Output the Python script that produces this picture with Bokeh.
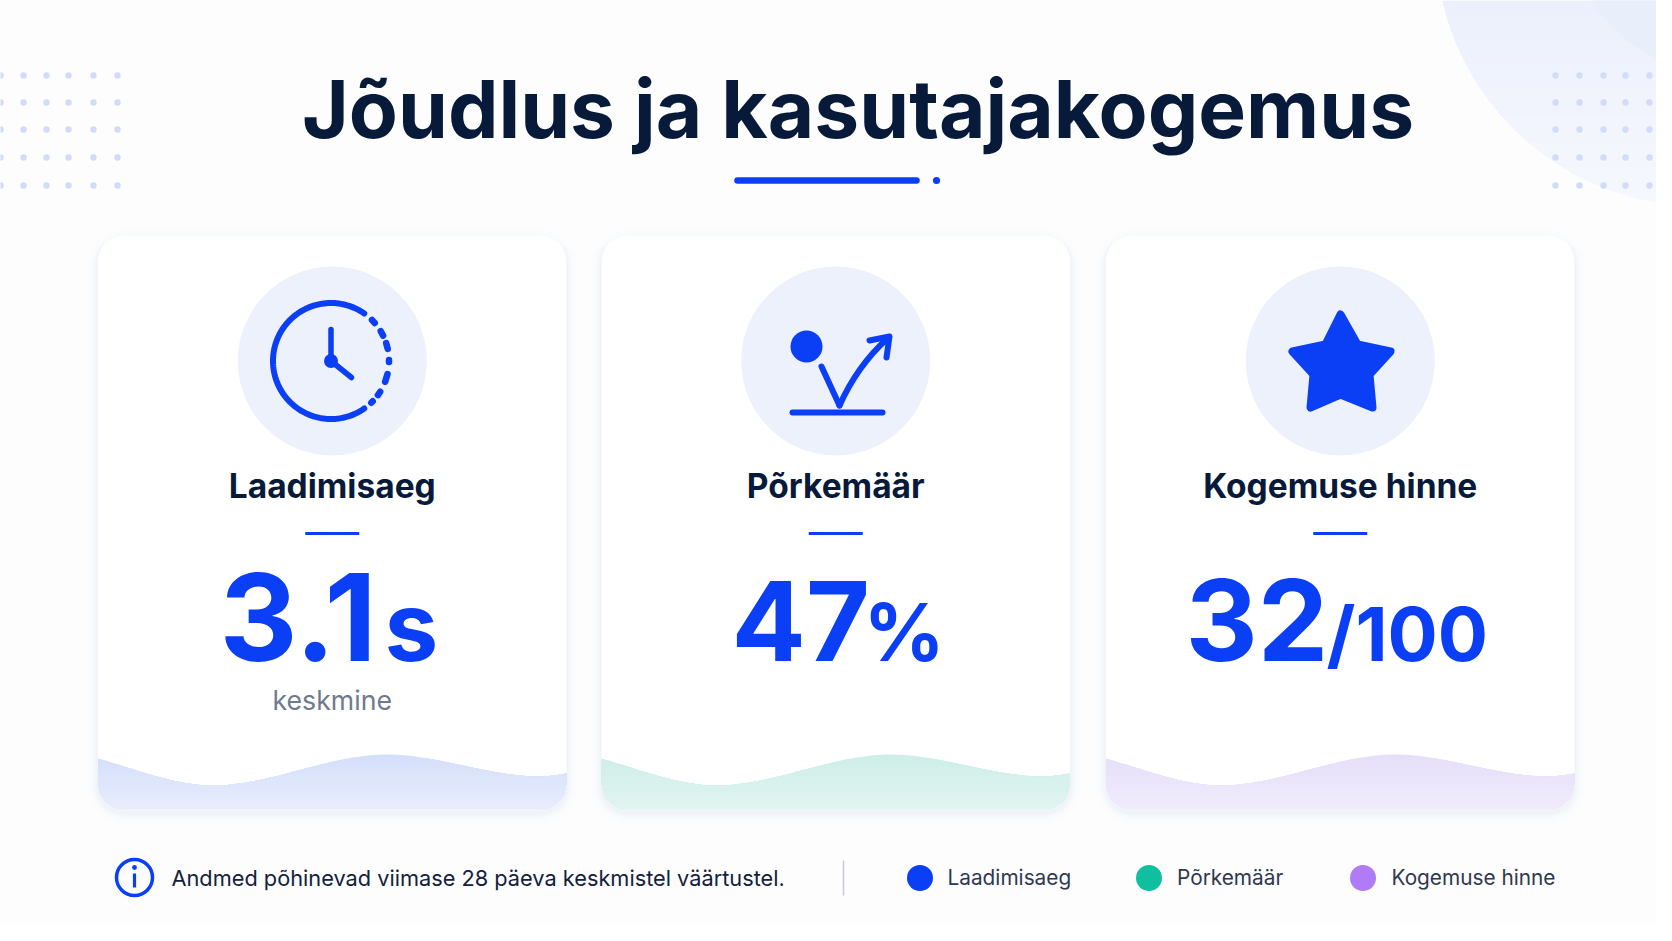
import numpy as np
from bokeh.core.properties import value
from bokeh.embed import file_html
from bokeh.models import Range1d
from bokeh.plotting import figure
from bokeh.resources import INLINE

title = "Jõudlus ja kasutajakogemus"
metric_names = ["Laadimisaeg", "Põrkemäär", "Kogemuse hinne"]
metric_values = ["3.1", "47", "32"]
metric_units = ["s", "%", "/100"]
metric_notes = ["keskmine", "", ""]
legend_colors = ["#0b3ff5", "#10bfa0", "#b07cf5"]
note = "Andmed põhinevad viimase 28 päeva keskmistel väärtustel."

FONT = value("Inter")
BLUE = "#0b3ff5"
NAVY = "#081a3a"

card_left = [97.5, 601, 1105.5]
card_width = 468.5
card_top = 235
card_bottom = 808.5
wave_top = ["#d5dffb", "#cfeee8", "#e6dffa"]
wave_bottom = ["#e8edfc", "#e0f4f0", "#f0ebfb"]
dot_rows = [75, 102, 129, 157, 185]
dot_cols_left = [0, 23, 46, 68, 93, 117]
dot_cols_right = [1555, 1579, 1603, 1625, 1649, 1672]

p = figure(
    width=1656,
    height=925,
    x_range=Range1d(0, 1656),
    y_range=Range1d(925, 0),
    output_backend="svg",
    toolbar_location=None,
    background_fill_color="#fdfdfe",
    border_fill_color="#fdfdfe",
    outline_line_color=None,
    min_border=0,
)
p.axis.visible = False
p.grid.visible = False


def mix(a, b, t):
    ca = [int(a[i : i + 2], 16) for i in (1, 3, 5)]
    cb = [int(b[i : i + 2], 16) for i in (1, 3, 5)]
    return "#%02x%02x%02x" % tuple(round(u + (v - u) * t) for u, v in zip(ca, cb))


def rounded(x0, y0, x1, y1, r):
    xs, ys = [], []
    corners = [(x1 - r, y0 + r, -90), (x1 - r, y1 - r, 0), (x0 + r, y1 - r, 90), (x0 + r, y0 + r, 180)]
    for cx, cy, start in corners:
        a = np.radians(np.linspace(start, start + 90, 12))
        xs.extend(cx + r * np.cos(a))
        ys.extend(cy + r * np.sin(a))
    return xs, ys


def fade(x, top, bottom, c0, c1, y0, y1, n=16):
    # vertical gradient: each layer is the same shape cut lower down
    for i in range(n):
        t = i / (n - 1)
        cut = np.maximum(top, y0 + (y1 - y0) * i / n)
        keep = cut < bottom
        if keep.sum() < 2:
            continue
        px = np.r_[x[keep], x[keep][::-1]]
        py = np.r_[cut[keep], bottom[keep][::-1]]
        p.patch(px, py, fill_color=mix(c0, c1, t), line_color=None)


def ease(x, knots_x, knots_y):
    y = np.zeros_like(x)
    for k in range(len(knots_x) - 1):
        m = (x >= knots_x[k]) & (x <= knots_x[k + 1])
        t = (x[m] - knots_x[k]) / (knots_x[k + 1] - knots_x[k])
        y[m] = knots_y[k] + (knots_y[k + 1] - knots_y[k]) * t * t * (3 - 2 * t)
    return y


# corner decoration
cx = np.linspace(1436, 1672, 240)
low = -60 + np.sqrt(np.maximum(265**2 - (cx - 1700) ** 2, 0))
fade(cx, np.full_like(cx, -10.0), low, "#ecf0fc", "#f6f8fe", 0, 205)
cx2 = np.linspace(1568, 1672, 120)
low2 = -80 + np.sqrt(np.maximum(152**2 - (cx2 - 1720) ** 2, 0))
p.patch(np.r_[cx2, cx2[::-1]], np.r_[np.full_like(cx2, -10.0), low2[::-1]], fill_color="#e9eefb", line_color=None)

for cols in (dot_cols_left, dot_cols_right):
    gx, gy = np.meshgrid(cols, dot_rows)
    p.circle(gx.ravel(), gy.ravel(), radius=3.2, fill_color="#d0dcfa", line_color=None)

# title
p.text([857.5], [108], [title], text_font=FONT, text_font_style="bold", text_font_size="80.2px",
       text_color=NAVY, text_align="center", text_baseline="middle")
p.line([737, 916], [180, 180], line_color=BLUE, line_width=6.5, line_cap="round")
p.circle([936], [180], radius=3.6, fill_color=BLUE, line_color=None)

# cards
for i, left in enumerate(card_left):
    right = left + card_width
    mid = left + card_width / 2
    for grow, alpha in [(10, 0.006), (7, 0.008), (5, 0.01), (3, 0.012), (1.5, 0.016)]:
        xs, ys = rounded(left - grow, card_top - grow + 4, right + grow, card_bottom + grow + 4, 26 + grow)
        p.patch(xs, ys, fill_color="#2a4aa0", fill_alpha=alpha, line_color=None)
    xs, ys = rounded(left, card_top, right, card_bottom, 26)
    p.patch(xs, ys, fill_color="#ffffff", line_color=None)

    # wave clipped to the rounded bottom of the card
    wx = np.linspace(left, right, 240)
    wy = ease(wx - left, [-60, 115, 289, 441, 540], [748, 785, 754, 776, 760])
    r = 26
    edge = np.minimum(wx - left, right - wx)
    inset = np.where(edge < r, r - np.sqrt(np.maximum(r**2 - (r - edge) ** 2, 0)), 0)
    fade(wx, wy, card_bottom - inset, wave_top[i], wave_bottom[i], 754, card_bottom)

    p.circle([mid], [360.5], radius=94.5, fill_color="#ecf1fc", line_color=None)

    p.text([mid], [485], [metric_names[i]], text_font=FONT, text_font_style="bold", text_font_size="33.5px",
           text_color=NAVY, text_align="center", text_baseline="middle")
    p.line([mid - 27, mid + 27], [533, 533], line_color=BLUE, line_width=3)
    if metric_notes[i]:
        p.text([mid], [699], [metric_notes[i]], text_font=FONT, text_font_size="26.7px",
               text_color="#6f7a8e", text_align="center", text_baseline="middle")

# big numbers
value_x = [219, 731, 1185]
value_size = [121, 110, 112]
unit_x = [384, 863, 1326]
unit_size = [96, 80, 74.5]
for i in range(3):
    p.text([value_x[i]], [660 - 0.36 * value_size[i]], [metric_values[i]], text_font=FONT, text_font_style="bold",
           text_font_size=f"{value_size[i]}px", text_color=BLUE, text_baseline="middle")
    p.text([unit_x[i]], [660 - 0.36 * unit_size[i]], [metric_units[i]], text_font=FONT, text_font_style="bold",
           text_font_size=f"{unit_size[i]}px", text_color=BLUE, text_baseline="middle")

# clock icon
ox, oy = 330.5, 360.5
a = np.radians(np.linspace(55, 305, 120))
p.line(ox + 58 * np.cos(a), oy - 58 * np.sin(a), line_color=BLUE, line_width=6, line_cap="round")
for a0, a1 in [(41, 45), (26, 31), (12, 18), (-1, 1), (-21, -13), (-36, -32), (-46, -44)]:
    t = np.radians([a0, a1])
    p.line(ox + 58 * np.cos(t), oy - 58 * np.sin(t), line_color=BLUE, line_width=6.5, line_cap="round")
p.line([ox, ox], [oy, 329], line_color=BLUE, line_width=5.5, line_cap="round")
p.line([ox, 351], [oy, 377], line_color=BLUE, line_width=5.5, line_cap="round")
p.circle([ox], [oy], radius=7, fill_color=BLUE, line_color=None)

# bounce icon
p.circle([806], [346], radius=16, fill_color=BLUE, line_color=None)
p.line([792, 882], [412, 412], line_color=BLUE, line_width=6, line_cap="round")
p.line([821, 839], [366, 405], line_color=BLUE, line_width=6, line_cap="round")
p.quadratic([839], [405], [887], [338], [857], [365], line_color=BLUE, line_width=6, line_cap="round")
p.line([869, 889, 886], [340, 336, 357], line_color=BLUE, line_width=6, line_cap="round", line_join="round")

# star icon
star_x = [1340, 1357, 1390, 1369, 1372, 1340, 1310, 1313, 1292, 1325]
star_y = [314, 344, 351, 374, 407, 394, 407, 374, 351, 344]
p.patch(star_x, star_y, fill_color=BLUE, line_color=BLUE, line_width=8, line_join="round")

# footer
p.circle([134], [877], radius=18, fill_color=None, line_color=BLUE, line_width=3.5)
p.circle([134], [867], radius=2.4, fill_color=BLUE, line_color=None)
p.line([134, 134], [873, 887], line_color=BLUE, line_width=3.2)
p.text([171], [877], [note], text_font=FONT, text_font_size="21.75px", text_color="#14213d", text_baseline="middle")
p.line([843, 843], [860, 895], line_color="#c6cbd7", line_width=1.5)

legend_dot = [919.5, 1148.5, 1362.5]
legend_text = [947, 1176.5, 1391]
for i in range(3):
    p.circle([legend_dot[i]], [877.5], radius=13, fill_color=legend_colors[i], line_color=None)
    p.text([legend_text[i]], [877], [metric_names[i]], text_font=FONT, text_font_size="20.8px",
           text_color="#2f3850", text_baseline="middle")

open("out.html", "w").write(file_html(p, INLINE))
